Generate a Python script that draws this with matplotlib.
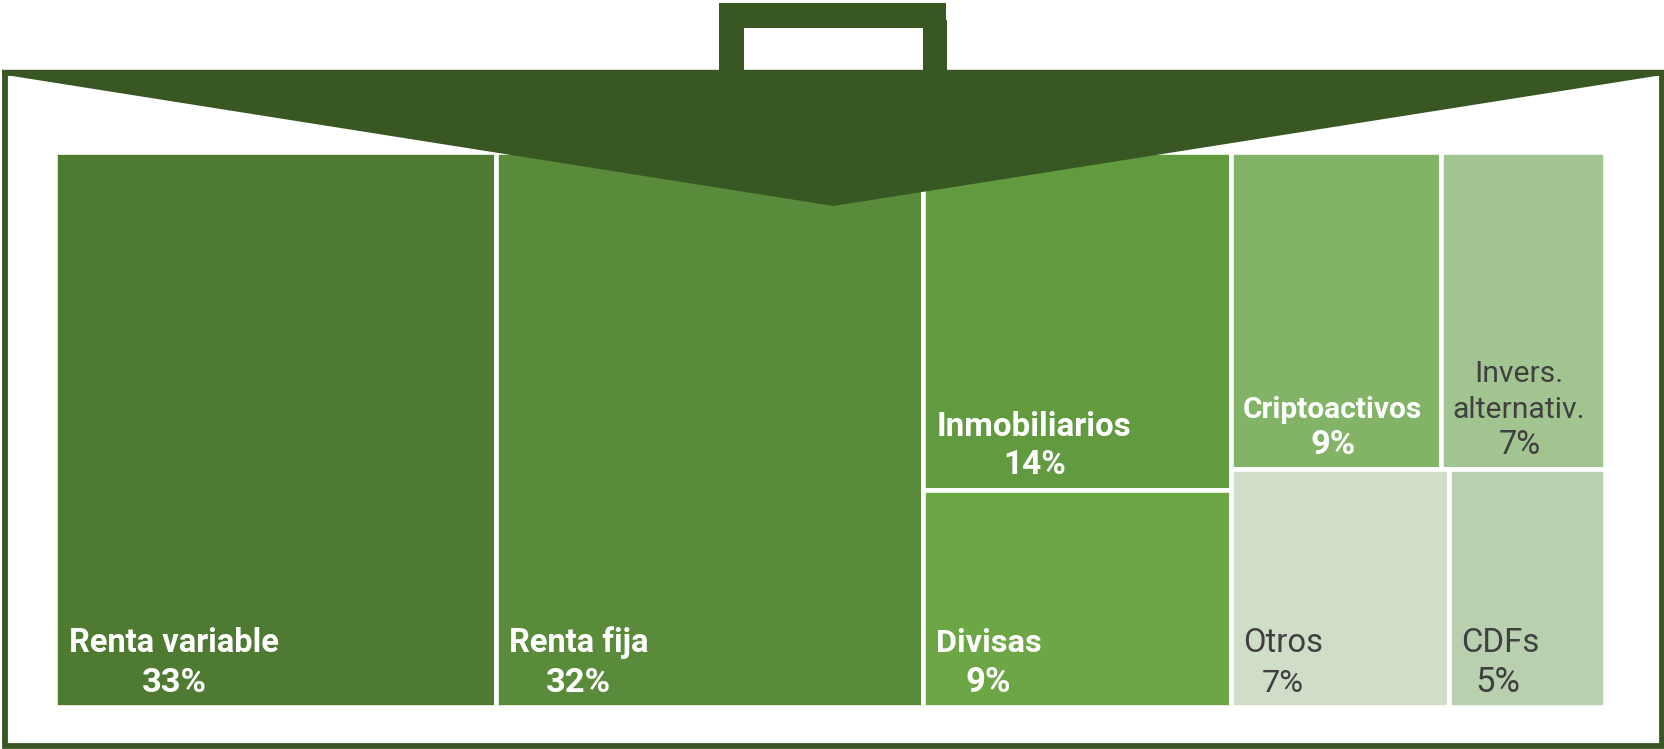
import matplotlib
matplotlib.use("Agg")
import matplotlib.pyplot as plt
from matplotlib.patches import Rectangle, Polygon

# ---- data ----
categories = ["Renta variable", "Renta fija", "Inmobiliarios", "Divisas", "Criptoactivos",
              "Invers.\nalternativ.", "Otros", "CDFs"]
values = [33, 32, 14, 9, 9, 7, 7, 5]
colors = ["#4F7A31", "#5A8B3A", "#629A40", "#6DA644", "#82B366", "#A2C491", "#D0DEC7", "#B8D0AD"]
# treemap structure: columns -> rows -> cells (indices into the values list)
columns = [[[0]], [[1]], [[2], [3]], [[4, 5], [6, 7]]]

W, H = 1665, 749
DARK = "#385723"
GAP = 4.6
TX0, TX1, TY0, TY1 = 57.2, 1602.3, 154.3, 704.2

fig = plt.figure(figsize=(W / 100, H / 100), dpi=100, facecolor="white")

def px_axes(x0, y0, x1, y1, z):
    ax = fig.add_axes([x0 / W, 1 - y1 / H, (x1 - x0) / W, (y1 - y0) / H], zorder=z)
    ax.axis("off")
    return ax

# treemap axes, in value units
tm = px_axes(TX0 - GAP / 2, TY0 - GAP / 2, TX1 + GAP / 2, TY1 + GAP / 2, 1)
total = sum(values)
tm.set_xlim(0, total)
tm.set_ylim(1, 0)
lw = GAP * 72 / 100
x = 0
for col in columns:
    col_sum = sum(values[i] for row in col for i in row)
    y = 0
    for row in col:
        row_sum = sum(values[i] for i in row)
        cx = x
        for i in row:
            w = col_sum * values[i] / row_sum
            tm.add_patch(Rectangle((cx, y), w, row_sum / col_sum, facecolor=colors[i],
                                   edgecolor="white", linewidth=lw, antialiased=True))
            cx += w
        y += row_sum / col_sum
    x += col_sum

# overlay in pixel coordinates: briefcase and labels
ov = px_axes(0, 0, W, H, 2)
ov.set_xlim(0, W)
ov.set_ylim(H, 0)
ov.patch.set_alpha(0)
# body border
bx0, bx1, by0, by1 = 2, 1664.5, 69.8, 749
bw = 5.8
ov.add_patch(Rectangle((bx0 + bw / 2, by0 + bw / 2), bx1 - bx0 - bw, by1 - by0 - bw, fill=False,
                       edgecolor=DARK, linewidth=bw * 72 / 100))
# handle
ov.add_patch(Polygon([(719, 3), (946, 3), (946, 20), (947, 20), (947, 75), (719, 75)],
                     closed=True, facecolor=DARK, edgecolor="none"))
ov.add_patch(Rectangle((744.3, 28), 178.5, 41.8, facecolor="white", edgecolor="none"))
# flap
ov.add_patch(Polygon([(2, 69.8), (1664, 69.8), (1664, 75.7), (1658, 75.7), (833.5, 206), (7.6, 75.3), (2, 75.3)],
                     closed=True, facecolor=DARK, edgecolor="none"))

FONT = "Roboto"
WHITE = "white"
TXT = "#404040"
LINE = 36
# (index, name x, name ha, last-line baseline, name size, pct centre x, pct baseline, pct size, colour, weight)
layout = [
    (0, 69.5, "left", 652, 23.5, 174.5, 692, 24.8, WHITE, "bold"),
    (1, 509, "left", 652, 23.5, 578, 692, 24.8, WHITE, "bold"),
    (2, 937, "left", 436, 23.9, 1035, 474, 24, WHITE, "bold"),
    (3, 936, "left", 652, 23.4, 988, 692, 25, WHITE, "bold"),
    (4, 1243, "left", 418, 21.5, 1333, 453.5, 24.8, WHITE, "bold"),
    (5, 1519, "center", 418, 21.7, 1519.5, 453.5, 23.5, TXT, "normal"),
    (6, 1243, "left", 652, 23.6, 1283, 692, 23.4, TXT, "normal"),
    (7, 1461, "left", 652, 23.7, 1498, 692, 25, TXT, "normal"),
]
for i, nx, ha, ny, nfs, px, py, pfs, c, wt in layout:
    lines = categories[i].split("\n")
    for k, line in enumerate(lines):
        ov.text(nx, ny - LINE * (len(lines) - 1 - k), line, family=FONT, fontsize=nfs, color=c,
                fontweight=wt, ha=ha, va="baseline")
    ov.text(px, py, f"{values[i]}%", family=FONT, fontsize=pfs, color=c, fontweight=wt,
            ha="center", va="baseline")

fig.savefig("out.png", dpi=100, facecolor="white")
